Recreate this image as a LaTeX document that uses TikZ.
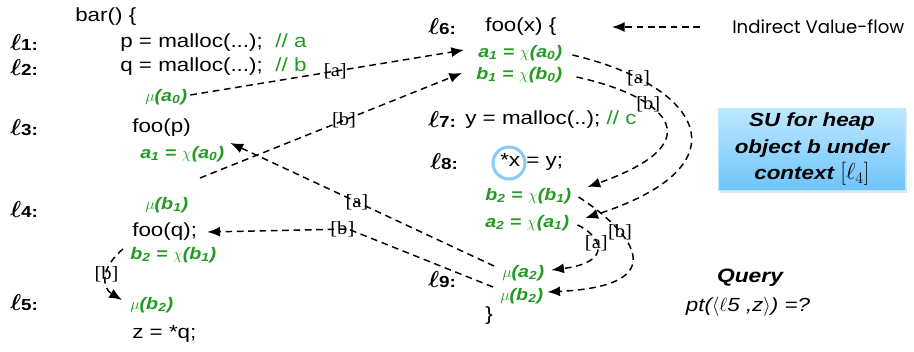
\documentclass[tikz,border=0pt]{standalone}
\usepackage{fontspec}
\setmainfont{Liberation Sans}[FakeStretch=1.18]
\newfontfamily\seriffont{Liberation Serif}[FakeStretch=1.1]
\newfontfamily\chalkfont{Poppins}
\usetikzlibrary{arrows.meta,shadows}
\definecolor{codegreen}{RGB}{34,155,34}
\definecolor{circblue}{RGB}{135,205,245}
\definecolor{sutop}{RGB}{190,232,255}
\definecolor{subot}{RGB}{110,196,250}
\newcommand{\lnum}[1]{{\fontsize{18}{18}\selectfont\boldmath$\ell$}{\bfseries\fontsize{12}{12}\selectfont #1:}}
\newcommand{\cmt}[1]{\textcolor{codegreen}{#1}}
\begin{document}
\begin{tikzpicture}[x=0.75pt,y=-0.75pt,
	font=\fontsize{14.25}{17}\selectfont,
	code/.style={anchor=west,inner sep=0pt},
	ssa/.style={anchor=west,inner sep=0pt,text=codegreen,font=\fontsize{12.5}{14}\selectfont\bfseries\itshape},
	vf/.style={line width=1.1pt,dash pattern=on 5pt off 3.5pt,-{Latex[length=9.5pt,width=7.5pt]}},
	lbl/.style={inner sep=0pt,font=\seriffont\fontsize{14}{15}\selectfont}]
			\useasboundingbox (0,0) rectangle (914,352);
			% bar()
			\node[code] (bar) at (75,17) {bar() \{};
			\node[code] (l1) at (10,43) {\lnum{1}};
			\node[code] (l2) at (10,68) {\lnum{2}};
			\node[code] (l3) at (10,128) {\lnum{3}};
			\node[code] (l4) at (10,210) {\lnum{4}};
			\node[code] (l5) at (10,303) {\lnum{5}};
			\node[code] (pmal) at (120,43) {p = malloc(...);\ \ \cmt{// a}};
			\node[code] (qmal) at (120,67) {q = malloc(...);\ \ \cmt{// b}};
			\node[ssa] (mua0) at (145,97) {$\mu$(a\textsubscript{0})};
			\node[code] (foop) at (132,128) {foo(p)};
			\node[ssa] (a1bar) at (140,154) {a\textsubscript{1} = $\chi$(a\textsubscript{0})};
			\node[ssa] (mub1) at (145,205) {$\mu$(b\textsubscript{1})};
			\node[code] (fooq) at (132,232) {foo(q);};
			\node[ssa] (b2bar) at (130,255) {b\textsubscript{2} = $\chi$(b\textsubscript{1})};
			\node[ssa] (mub2) at (130,305) {$\mu$(b\textsubscript{2})};
			\node[code] (zq) at (132,334) {z = *q;};
			\node[code] (barend) at (75,363) {\}};
			% foo(x)
			\node[code] (l6) at (428,27) {\lnum{6}};
			\node[code] (foox) at (485,27) {foo(x) \{};
			\node[ssa] (a1foo) at (478,53) {a\textsubscript{1} = $\chi$(a\textsubscript{0})};
			\node[ssa] (b1foo) at (476,75) {b\textsubscript{1} = $\chi$(b\textsubscript{0})};
			\node[code] (l7) at (428,120) {\lnum{7}};
			\node[code] (ymal) at (465,120) {y = malloc(..); \cmt{// c}};
			\node[code] (l8) at (430,162) {\lnum{8}};
			\node[circle,draw=circblue,line width=2.3pt,minimum size=24pt] (ring) at (509,163) {};
			\node[code] (store) at (500,162) {*x = y;};
			\node[ssa] (b2foo) at (485,196) {b\textsubscript{2} = $\chi$(b\textsubscript{1})};
			\node[ssa] (a2foo) at (485,223) {a\textsubscript{2} = $\chi$(a\textsubscript{1})};
			\node[code] (l9) at (428,280) {\lnum{9}};
			\node[ssa] (mua2) at (502,273) {$\mu$(a\textsubscript{2})};
			\node[ssa] (mub2foo) at (500,296) {$\mu$(b\textsubscript{2})};
			\node[code] (fooend) at (485,316) {\}};
			% legend, box, query
			\node[code,font=\chalkfont\fontsize{13.6}{15}\selectfont] (legend) at (732,27) {Indirect Value-flow};
			\coordinate (legtip) at (612,27);
			\draw[vf] ([shift={(-32,0)}]legend.west) -- (legtip);
			\node[draw=sutop,top color=sutop,bottom color=subot,minimum width=140pt,minimum height=61pt,align=center,
				font=\fontsize{14.25}{20}\selectfont\bfseries\itshape,
				drop shadow={shadow xshift=1pt,shadow yshift=-2pt,opacity=0.2}] (su) at (812,149) {SU for heap\\object b under\\context {\fontsize{18}{20}\selectfont$[\ell_4]$}};
			\node[font=\fontsize{14.5}{17}\selectfont\bfseries\itshape] (query) at (750,278) {Query};
			\node[font=\fontsize{14.25}{17}\selectfont\itshape] (ptq) at (748,307) {pt($\langle\ell$5 ,z$\rangle$) =?};
			% value-flow edges
			\coordinate (b0out) at (200,178);
			\draw[vf] ([shift={(3,-2)}]mua0.east) -- node[lbl,pos=0.53]{[a]} ([shift={(-14,-3)}]a1foo.west);
			\draw[vf] (b0out) -- node[lbl,pos=0.55]{[b]} ([shift={(-14,-2)}]b1foo.west);
			\draw[vf] ([shift={(-8,-7)}]mua2.west) -- node[lbl,pos=0.52]{[a]} ([shift={(6,-3)}]a1bar.north east);
			\draw[vf] ([shift={(-7,-9)}]mub2foo.west) -- (348,229) -- node[lbl,pos=0.04]{[b]} ([shift={(10,0)}]fooq.east);
			\draw[vf] ([shift={(-7,-6)}]b2bar.west) .. controls (100,268) and (102,288) .. node[lbl,pos=0.45]{[b]} ([shift={(-8,-5)}]mub2.west);
			\draw[vf] ([shift={(10,2)}]a1foo.east) .. controls (700,85) and (750,165) .. node[lbl,pos=0.2]{[a]} ([shift={(16,-5)}]a2foo.east);
			\draw[vf] ([shift={(14,2)}]b1foo.east) .. controls (660,95) and (720,140) .. node[lbl,pos=0.35]{[b]} ([shift={(16,-9)}]b2foo.east);
			\draw[vf] ([shift={(7,1)}]b2foo.east) .. controls (615,220) and (690,285) .. node[lbl,pos=0.35]{[b]} ([shift={(4,-4)}]mub2foo.east);
			\draw[vf] ([shift={(8,2)}]a2foo.east) .. controls (600,235) and (615,262) .. node[lbl,pos=0.4]{[a]} ([shift={(7,-3)}]mua2.east);
\end{tikzpicture}
\end{document}
